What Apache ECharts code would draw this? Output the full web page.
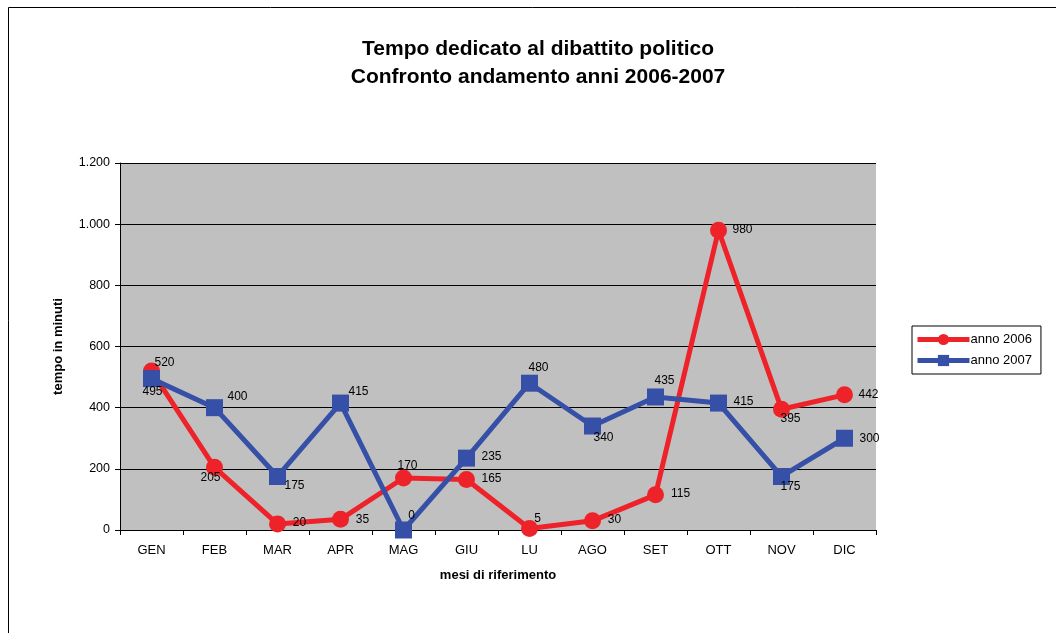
<!DOCTYPE html>
<html>
<head>
<meta charset="utf-8">
<script src="https://cdn.jsdelivr.net/npm/echarts@6/dist/echarts.min.js"></script>
<style>
  html, body { margin: 0; padding: 0; background: #fff; }
  #chart { width: 1056px; height: 633px; }
</style>
</head>
<body>
<div id="chart"></div>
<script>
// mesi
const months = ['GEN', 'FEB', 'MAR', 'APR', 'MAG', 'GIU', 'LU', 'AGO', 'SET', 'OTT', 'NOV', 'DIC']
const anno2006 = [520, 205, 20, 35, 170, 165, 5, 30, 115, 980, 395, 442]
const anno2007 = [495, 400, 175, 415, 0, 235, 480, 340, 435, 415, 175, 300]
const yTicks = [0, 200, 400, 600, 800, 1000, 1200]

// spostamento delle etichette rispetto al punto
const labelShift2006 = [[13, -8], [-4, 10], [22, -1], [22, 0], [4, -12], [25, -1], [8, -10], [22, -1], [25, -1], [24, -1], [9, 9], [24, 0]]
const labelShift2007 = [[1, 13], [23, -11], [17, 9], [18, -11], [8, -14], [25, -1], [9, -16], [11, 12], [9, -16], [25, -1], [9, 10], [25, 0]]

const RED = '#EE2229'
const BLUE = '#3550A6'
const FONT = 'Liberation Sans, Arial, sans-serif'

const fmtNum = v => String(v).replace(/\B(?=(\d{3})+(?!\d))/g, '.')

const buildData = (values, shifts) => values.map((v, i) => ({
  value: v,
  label: { offset: shifts[i] }
}))

const chart = echarts.init(document.getElementById('chart'))

chart.setOption({
  animation: false,
  backgroundColor: '#fff',
  graphic: [
    {
      type: 'rect',
      shape: { x: 8.5, y: 7.5, width: 1100, height: 700 },
      style: { fill: 'none', stroke: '#000', lineWidth: 1 },
      z: -1
    }
  ],
  title: {
    text: 'Tempo dedicato al dibattito politico\nConfronto andamento anni 2006-2007',
    left: 533,
    top: 30,
    textAlign: 'center',
    textStyle: { fontFamily: FONT, fontSize: 21, fontWeight: 'bold', color: '#000', lineHeight: 28 }
  },
  legend: {
    orient: 'vertical',
    left: 912,
    top: 326,
    padding: [7, 9, 7, 3],
    itemGap: 8,
    itemWidth: 52,
    itemHeight: 14,
    borderColor: '#000',
    borderWidth: 1,
    borderRadius: 0,
    lineStyle: { width: 5 },
    textStyle: { fontFamily: FONT, fontSize: 13, color: '#000', padding: [0, 0, 0, -4] },
    data: ['anno 2006', 'anno 2007']
  },
  grid: {
    left: 120,
    top: 163,
    width: 756,
    height: 367,
    show: true,
    backgroundColor: '#C0C0C0',
    borderWidth: 0
  },
  xAxis: {
    type: 'category',
    data: months,
    boundaryGap: true,
    name: 'mesi di riferimento',
    nameLocation: 'middle',
    nameGap: 39,
    nameTextStyle: { fontFamily: FONT, fontSize: 13, fontWeight: 'bold', color: '#000' },
    axisLine: { lineStyle: { color: '#000', width: 1 } },
    axisTick: { show: true, length: 5, alignWithLabel: false, lineStyle: { color: '#000' } },
    axisLabel: { fontFamily: FONT, fontSize: 13, color: '#000', margin: 14 },
    splitLine: { show: false }
  },
  yAxis: {
    type: 'value',
    min: yTicks[0],
    max: yTicks[yTicks.length - 1],
    interval: 200,
    name: 'tempo in minuti',
    nameLocation: 'middle',
    nameGap: 55,
    nameTextStyle: { fontFamily: FONT, fontSize: 13, fontWeight: 'bold', color: '#000' },
    axisLine: { show: true, lineStyle: { color: '#000', width: 1 } },
    axisTick: { show: true, length: 5, lineStyle: { color: '#000' } },
    axisLabel: { fontFamily: FONT, fontSize: 12.5, color: '#000', margin: 10, formatter: fmtNum },
    splitLine: { show: true, lineStyle: { color: '#000', width: 1 } }
  },
  series: [
    {
      name: 'anno 2006',
      type: 'line',
      data: buildData(anno2006, labelShift2006),
      symbol: 'circle',
      symbolSize: 17,
      lineStyle: { color: RED, width: 5 },
      itemStyle: { color: RED },
      label: {
        show: true,
        position: 'inside',
        fontFamily: FONT,
        fontSize: 12,
        color: '#000'
      },
      z: 3
    },
    {
      name: 'anno 2007',
      type: 'line',
      data: buildData(anno2007, labelShift2007),
      symbol: 'rect',
      symbolSize: 17,
      lineStyle: { color: BLUE, width: 5 },
      itemStyle: { color: BLUE },
      label: {
        show: true,
        position: 'inside',
        fontFamily: FONT,
        fontSize: 12,
        color: '#000'
      },
      z: 4
    }
  ]
})
</script>
</body>
</html>
